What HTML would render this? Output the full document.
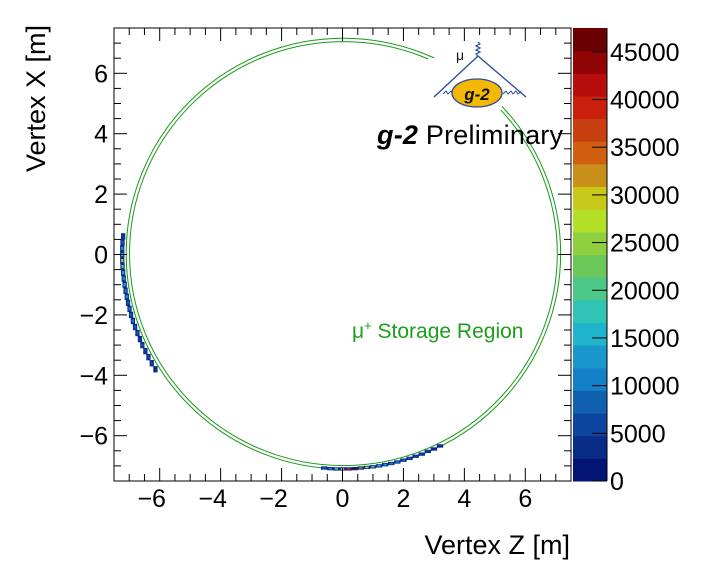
<!DOCTYPE html>
<html><head><meta charset="utf-8">
<style>
html,body{margin:0;padding:0;background:#fff;}
svg{display:block;font-family:"Liberation Sans",sans-serif;}
</style></head>
<body>
<svg id="chart" width="713" height="574" viewBox="0 0 713 574">
<rect x="0" y="0" width="713" height="574" fill="#fff"/>
<g id="ring"></g>
<g id="bins"></g>
<g id="logo">
  <rect x="428" y="58" width="74" height="52" fill="#fff"/>
  <line x1="478" y1="56" x2="434" y2="97" stroke="#2a4aa0" stroke-width="1.3"/>
  <line x1="478" y1="56" x2="526" y2="97" stroke="#2a4aa0" stroke-width="1.3"/>
  <path d="M478 56 l-2 -2 l4 -2 l-4 -2 l4 -2 l-4 -2 l4 -2 l-2 -2" fill="none" stroke="#2a4aa0" stroke-width="1.2"/>
  <path d="M443 94 l3 -3 l2 3 l3 -3 l2 3 l3 -3 l2 3 l3 -3" fill="none" stroke="#2a4aa0" stroke-width="1"/>
  <path d="M503 94 l3 -3 l2 3 l3 -3 l2 3 l3 -3 l2 3 l3 -3" fill="none" stroke="#2a4aa0" stroke-width="1"/>
  <ellipse cx="477" cy="93" rx="25" ry="14" fill="#f5b800" stroke="#2a4aa0" stroke-width="1.3"/>
  <text x="477" y="100" text-anchor="middle" font-size="17" font-weight="bold" font-style="italic" fill="#111">g-2</text>
  <text x="460" y="60" text-anchor="middle" font-size="14" fill="#111">μ</text>
</g>
<text x="377" y="144" font-size="27" fill="#000" textLength="186"><tspan font-weight="bold" font-style="italic">g-2</tspan> Preliminary</text>
<text x="352" y="338" font-size="21" fill="#1aa01a">μ<tspan font-size="13" dy="-8">+</tspan><tspan dy="8"> Storage Region</tspan></text>
<g id="axes"></g>
<g id="cbar"></g>
<text x="570" y="554" text-anchor="end" font-size="27">Vertex Z [m]</text>
<text transform="translate(45,172) rotate(-90)" text-anchor="start" x="0" y="0" font-size="27">Vertex X [m]</text>
</svg>
<script>
const xTicks=[-6,-4,-2,0,2,4,6];
const yTicks=[-6,-4,-2,0,2,4,6];
const zTicks=[0,5000,10000,15000,20000,25000,30000,35000,40000,45000];
const zMax=47500;
const bandColors=["#041474","#082c88","#0c44a0","#1060b0","#1480c8","#1898cc","#20b4cc","#30c4b4","#4cc888","#6cc858","#90d040","#b4e028","#c8c818","#c89018","#d06010","#c84010","#c8200c","#b80d0d","#8f0505","#6a0000"];
const ringRadii=[7.02,7.13];
// bins: Z position, X position, counts
const binZ=[-7.2,-7.22,-7.23,-7.23,-7.23,-7.22,-7.2,-7.18,-7.15,-7.12,-7.08,-7.04,-6.99,-6.94,-6.88,-6.81,-6.73,-6.65,-6.57,-6.47,-6.37,-6.26,-6.14,
 -0.6,-0.4,-0.2,0,0.2,0.4,0.6,0.8,1.0,1.2,1.4,1.6,1.8,2.0,2.2,2.4,2.6,2.8,3.0,3.2];
const binX=[0.6,0.4,0.2,0,-0.2,-0.4,-0.6,-0.8,-1.0,-1.2,-1.4,-1.6,-1.8,-2.0,-2.2,-2.4,-2.6,-2.8,-3.0,-3.2,-3.4,-3.6,-3.8,
 -7.07,-7.09,-7.1,-7.1,-7.1,-7.09,-7.07,-7.05,-7.03,-7.0,-6.96,-6.92,-6.87,-6.81,-6.75,-6.68,-6.61,-6.52,-6.44,-6.34];
const binC=[6000,9000,12000,18000,30000,22000,16000,12000,15000,10000,12000,9000,11000,8000,10000,9000,8000,7000,9000,7000,6000,5000,4000,
 8000,12000,20000,30000,38000,46000,35000,28000,20000,15000,12000,11000,10000,9000,8000,7000,6000,5000,4000,3000];

const NS="http://www.w3.org/2000/svg";
const L=114,R=571,T=28,B=481;
const sx=v=>L+(v+7.5)/15*(R-L);
const sy=v=>B-(v+7.5)/15*(B-T);
const cy=v=>B-v/zMax*(B-T);
function mk(tag,attrs,parent){const e=document.createElementNS(NS,tag);for(const k in attrs)e.setAttribute(k,attrs[k]);parent.appendChild(e);return e;}
function colorOf(c){let i=Math.floor(c/zMax*bandColors.length);return bandColors[Math.max(0,Math.min(bandColors.length-1,i))];}

const ring=document.getElementById('ring');
ringRadii.forEach(r=>{const c=mk('ellipse',{cx:sx(0.03),cy:sy(0.03),rx:sx(r)-sx(0),ry:sy(0)-sy(r),fill:'none',stroke:'#1a9a1a','stroke-width':1},ring);

});

const bins=document.getElementById('bins');
const bw=sx(0.2)-sx(0), bh=sy(0)-sy(0.2);
for(let i=0;i<binZ.length;i++){
  const left=i<23;
  const w=left?bw*0.7:bw*1.05, h=left?bh*1.05:bh*0.55;
  const o=mk('rect',{x:sx(binZ[i])-w/2,y:sy(binX[i])-h/2,width:w,height:h,fill:'#0c2a8a'},bins);
  
  
  const r=mk('rect',{x:sx(binZ[i])-w/4,y:sy(binX[i])-h/4,width:w/2,height:h/2,fill:colorOf(binC[i])},bins);
  
  
}

const ax=document.getElementById('axes');
const fr=mk('rect',{x:L,y:T,width:R-L,height:B-T,fill:'none',stroke:'#000','stroke-width':1},ax);


for(let v=-7;v<=7.01;v+=0.5){
  const big=Math.abs(v-Math.round(v/2)*2)<1e-6;
  const len=big?13:7;
  mk('line',{x1:sx(v),y1:B,x2:sx(v),y2:B-len,stroke:'#000'},ax);
  mk('line',{x1:sx(v),y1:T,x2:sx(v),y2:T+len,stroke:'#000'},ax);
  mk('line',{x1:L,y1:sy(v),x2:L+len,y2:sy(v),stroke:'#000'},ax);
  mk('line',{x1:R,y1:sy(v),x2:R-len,y2:sy(v),stroke:'#000'},ax);
}
xTicks.forEach(v=>{const t=mk('text',{x:sx(v)-(v<0?8:0),y:507,'text-anchor':'middle','font-size':25},ax);t.textContent=(v<0?'\u2212'+(-v):v);

});
yTicks.forEach(v=>{const t=mk('text',{x:108,y:sy(v)+9,'text-anchor':'end','font-size':25},ax);t.textContent=(v<0?'\u2212'+(-v):v);

});

const cb=document.getElementById('cbar');
const CL=573,CR=607;
bandColors.forEach((c,i)=>{const y0=cy((i+1)*zMax/bandColors.length),y1=cy(i*zMax/bandColors.length);
const r=mk('rect',{x:CL,y:y0,width:CR-CL,height:y1-y0+0.5,fill:c},cb);

});
mk('line',{x1:CR,y1:T,x2:CR,y2:B,stroke:'#000'},cb);
zTicks.forEach(v=>{mk('line',{x1:CR,y1:cy(v),x2:CR-15,y2:cy(v),stroke:'#000'},cb);
const t=mk('text',{x:610,y:cy(v)+9,'font-size':25},cb);t.textContent=v;

});
</script>
</body></html>
